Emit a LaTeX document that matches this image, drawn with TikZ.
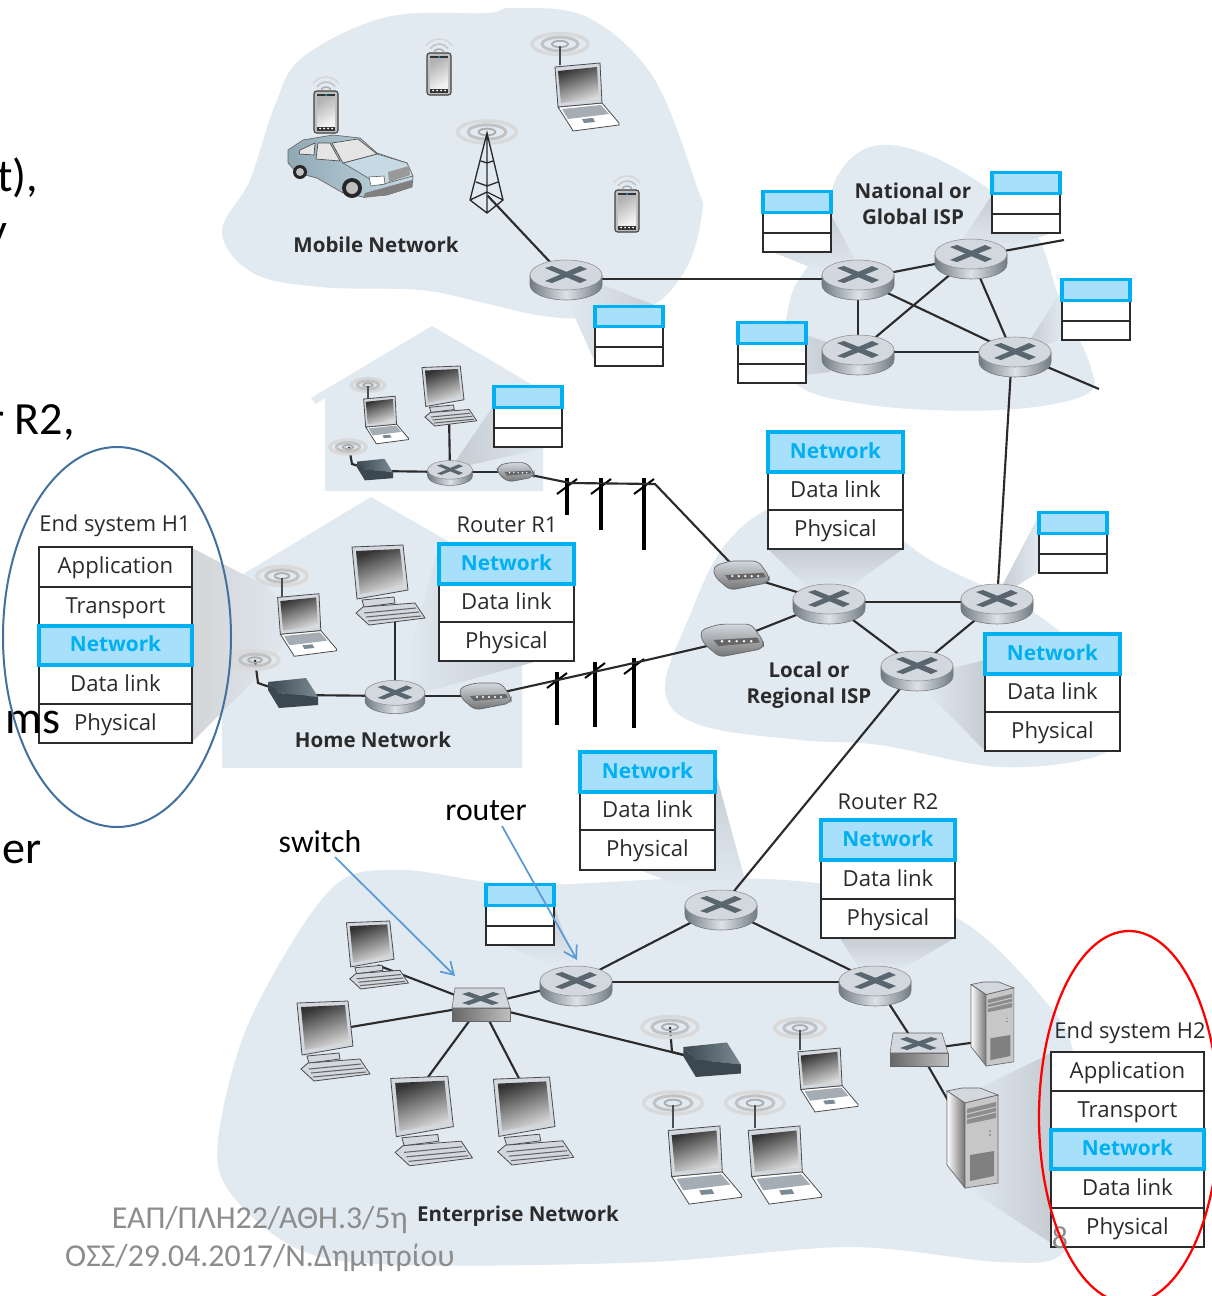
\documentclass[tikz,border=0pt]{standalone}
\usepackage{fontspec}
\setmainfont{Open Sans}
\newfontfamily\calib{Carlito}
\usetikzlibrary{arrows.meta}
\definecolor{blob}{HTML}{E1E9F1}
\definecolor{shd}{HTML}{C6CCD2}
\definecolor{shdg}{HTML}{D3D5D7}
\definecolor{netb}{HTML}{00B0F0}
\definecolor{netf}{HTML}{A8DFFB}
\definecolor{ink}{HTML}{2B2B2B}
\definecolor{rtop}{HTML}{D2D8DE}
\definecolor{rdark}{HTML}{6F7B84}
\definecolor{rlite}{HTML}{DDE2E6}
\definecolor{xmark}{HTML}{59666F}
\definecolor{arrowb}{HTML}{5B9BD5}
\definecolor{foot}{HTML}{8C8C8C}
\definecolor{ringb}{HTML}{41719C}
\definecolor{carA}{HTML}{8FA8B4}
\definecolor{carB}{HTML}{C5DAE4}
\definecolor{modA}{HTML}{3B4851}
\definecolor{modB}{HTML}{7C8A93}
\tikzset{
  cell/.style={draw=ink,line width=1.5pt,fill=white,inner sep=0pt,outer sep=0pt,font=\fontsize{16.6}{18}\selectfont,text=ink,text height=13pt,text depth=3.2pt},
  netcell/.style={cell,draw=netb,line width=2.3pt,fill=netf,text=netb,font=\fontsize{15.6}{18}\selectfont\bfseries,text height=12.2pt,text depth=3pt},
  hub/.style={inner sep=0pt,minimum size=1pt,outer sep=0pt},
  link/.style={draw=ink,line width=1.6pt},
  blobfill/.style={fill=blob,draw=none},
  labelb/.style={font=\fontsize{15.4}{19.5}\selectfont\bfseries,text=ink,align=center,inner sep=0pt},
  labeln/.style={font=\fontsize{16.4}{18}\selectfont,text=ink,inner sep=0pt},
  callout/.style={font=\calib\fontsize{23.8}{25}\selectfont,text=black,inner sep=0pt},
  cutoff/.style={font=\calib\fontsize{34.6}{36}\selectfont,text=black,inner sep=0pt,anchor=west},
  footer/.style={font=\calib\fontsize{23.9}{26}\selectfont,text=foot,inner sep=0pt},
  shadowL/.style={left color=blob,right color=shd,draw=none},
  shadowR/.style={right color=blob,left color=shd,draw=none},
  shadowT/.style={top color=shd,bottom color=blob,draw=none},
  shadowB/.style={bottom color=shd,top color=blob,draw=none},
  pointer/.style={draw=arrowb,line width=1.3pt,-{Straight Barb[length=9pt,width=11pt]}},
}
\newcommand\Cell[7]{%
  \pgfmathsetmacro\cw{(#5-#3)*0.75}\pgfmathsetmacro\ch{(#6-#4)*0.75}%
  \node[#2,minimum width=\cw pt,minimum height=\ch pt] (#1) at ({(#3+#5)/2},{(#4+#6)/2}) {#7};}
\newcommand\EmptyTbl[7]{%
  \Cell{#1c}{cell}{#2}{#5}{#3}{#6}{}\Cell{#1b}{cell}{#2}{#4}{#3}{#5}{}\Cell{#1a}{netcell}{#2}{#7}{#3}{#4}{}}
\newcommand\ThreeTbl[7]{%
  \Cell{#1c}{cell}{#2}{#5}{#3}{#6}{Physical}\Cell{#1b}{cell}{#2}{#4}{#3}{#5}{Data link}\Cell{#1a}{netcell}{#2}{#7}{#3}{#4}{Network}}
\newcommand\Router[3]{\begin{scope}[shift={(#1,#2)},scale=#3]
  \path[left color=rdark,right color=rdark,middle color=rlite,draw=black!55,line width=.4pt] (-36,-5) -- (-36,5) arc[start angle=180,end angle=0,x radius=36,y radius=15] -- (36,-5) -- cycle;
  \path[fill=rtop,draw=black!45,line width=.4pt] (0,-5) ellipse[x radius=36,y radius=15];
  \fill[xmark] (-21,-12) -- (-14,-14) -- (21,0) -- (14,3) -- cycle;
  \fill[xmark] (-21,1) -- (-14,3) -- (21,-11) -- (14,-14) -- cycle;
\end{scope}}
\newcommand\Laptop[3]{\begin{scope}[shift={(#1,#2)},scale=#3]
  \path[fill=white,draw=black!70,line width=.6pt] (-29,10) -- (15,6) -- (32,26) -- (32,28) -- (-14,34) -- (-15,32) -- cycle;
  \path[fill=modB!70] (-25,12) -- (14,8) -- (22,17) -- (-19,22) -- cycle;
  \path[fill=modB] (-5,22) -- (6,21) -- (8,25) -- (-3,26) -- cycle;
  \path[fill=rtop,draw=black!70,line width=.6pt] (-32,-30) -- (13,-34) -- (15,6) -- (-29,10) -- cycle;
  \path[left color=black!80,right color=black!12,shading angle=20] (-29,-26) -- (10,-30) -- (12,2) -- (-26,6) -- cycle;
\end{scope}}
\newcommand\Desktop[3]{\begin{scope}[shift={(#1,#2)},scale=#3]
  \path[fill=rtop,draw=black!70,line width=.6pt] (-26,15) -- (6,12) -- (7,18) -- (-24,22) -- cycle;
  \path[fill=rtop,draw=black!70,line width=.6pt] (-32,28) -- (-25,22) -- (27,18) -- (37,33) -- (-19,40) -- cycle;
  \draw[black!60,line width=.8pt] (-24,28) -- (28,23) (-22,32) -- (31,27) (-20,36) -- (33,31);
  \path[fill=rtop,draw=black!70,line width=.6pt] (-36,-38) -- (15,-40) -- (20,5) -- (-31,14) -- cycle;
  \path[left color=black!80,right color=black!12,shading angle=20] (-32,-34) -- (12,-36) -- (16,1) -- (-28,9) -- cycle;
\end{scope}}
\newcommand\Phone[3]{\begin{scope}[shift={(#1,#2)},scale=#3]
  \path[fill=black!25,draw=black!75,line width=.8pt,rounded corners=2pt] (-12,-21) rectangle (12,21);
  \fill[black!80] (-9,-18.5) rectangle (9,19);
  \path[left color=black!30,right color=black!5,shading angle=30] (-9,-15.5) rectangle (9,14);
  \foreach \q in {-6,-2,2,6} \fill[white] (\q,16.5) circle[radius=1];
  \fill[netb] (0,-17) circle[radius=1];
  \draw[black!16,line width=1.1pt] ([shift={(-35:16)}]0,-19) arc[start angle=-35,end angle=-145,radius=16];
  \draw[black!24,line width=1.1pt] ([shift={(-35:11)}]0,-19) arc[start angle=-35,end angle=-145,radius=11];
  \draw[black!32,line width=1.1pt] ([shift={(-35:6)}]0,-19) arc[start angle=-35,end angle=-145,radius=6];
\end{scope}}
\newcommand\Wave[3]{\begin{scope}[shift={(#1,#2)},scale=#3]
  \draw[black!15,line width=2.6pt] (0,0) ellipse[x radius=28,y radius=10.5];
  \draw[black!24,line width=2.2pt] (0,0) ellipse[x radius=18,y radius=6.8];
  \draw[black!32,line width=1.4pt] (0,0) ellipse[x radius=8,y radius=3.2];
\end{scope}}
\newcommand\Modem[3]{\begin{scope}[shift={(#1,#2)},scale=#3]
  \path[fill=modA] (-25,-13) -- (-14,-2) -- (-14,13) -- (-25,-5) -- cycle;
  \path[left color=modA,right color=modB,draw=none] (-25,-13) -- (13,-17) -- (25,2) -- (-14,-2) -- cycle;
  \path[fill=modA] (-14,-2) -- (25,2) -- (25,10) -- (-14,13) -- cycle;
\end{scope}}
\newcommand\Gateway[3]{\begin{scope}[shift={(#1,#2)},scale=#3]
  \path[top color=rtop,bottom color=black!55,draw=black!60,line width=.5pt,rounded corners=4pt] (-27,-8) -- (-11,-13) -- (15,-13) -- (25,1) -- (25,7) -- (-11,14) -- (-25,2) -- cycle;
  \fill[black!60] (-16,0) -- (20,-2) -- (22,2) -- (-12,5) -- cycle;
  \foreach \q in {-9,-3,3,9,15} \fill[white] (\q,1) circle[radius=1.1];
\end{scope}}
\newcommand\Switch[3]{\begin{scope}[shift={(#1,#2)},scale=#3]
  \path[left color=black!60,right color=black!25,draw=black!60,line width=.4pt] (-29,3) rectangle (29,16);
  \path[fill=rtop,draw=black!60,line width=.4pt] (-26,-17) -- (23,-17) -- (29,3) -- (-29,3) -- cycle;
  \fill[xmark] (-19,-11) -- (-12,-13) -- (18,-2) -- (11,0) -- cycle;
  \fill[xmark] (-19,-2) -- (-12,0) -- (19,-11) -- (12,-13) -- cycle;
\end{scope}}
\newcommand\Server[3]{\begin{scope}[shift={(#1,#2)},scale=#3]
  \path[fill=rtop,draw=black!60,line width=.5pt] (-25,-47) -- (-10,-50) -- (8,-50) -- (26,-43) -- (-7,-35) -- cycle;
  \path[left color=white,right color=black!55,draw=black!60,line width=.5pt] (-25,-47) -- (-7,-35) -- (-7,50) -- (-25,27) -- cycle;
  \path[fill=black!22,draw=black!60,line width=.5pt] (-7,-35) -- (26,-43) -- (26,45) -- (-7,50) -- cycle;
  \fill[black!45] (-5,-29) -- (24,-36) -- (24,-20) -- (-5,-14) -- cycle;
  \draw[black!22,line width=.8pt] (-5,-24) -- (24,-31) (-5,-19) -- (24,-26);
  \fill[black!50] (-2,17) -- (22,13) -- (22,38) -- (-2,43) -- cycle;
  \fill[black!55] (18,-7) circle[radius=.8] (18,-3) circle[radius=.8];
\end{scope}}
\newcommand\Pole[4]{%
  \draw[line width=2.6pt,black] (#2,#3) -- (#2,#4);
  \draw[line width=1.5pt,black] ({#2-10},{#3+16}) -- ({#2+10},{#3+1});
  \node[hub] (#1) at (#2,{#3+5}) {};}
\begin{document}
\begin{tikzpicture}[x=0.75pt,y=-0.75pt]
\useasboundingbox (0,0) rectangle (1211,1296);
\fill[white] (0,0) rectangle (1211,1296);
% ---- regions
\path[blobfill] plot[smooth cycle,tension=0.6] coordinates {(222,232) (250,180) (275,105) (303,57) (387,17) (487,13) (513,8) (587,17) (653,77) (697,187) (702,213) (687,267) (650,307) (587,318) (537,315) (480,302) (420,290) (320,287) (253,273)};
\path[blobfill] plot[smooth cycle,tension=0.6] coordinates {(790,300) (820,245) (838,175) (880,145) (950,165) (1030,225) (1060,300) (1090,365) (1085,395) (1000,410) (870,405) (790,378)};
\path[blobfill] plot[smooth cycle,tension=0.6] coordinates {(665,690) (690,615) (725,545) (780,505) (860,510) (930,560) (1030,610) (1100,670) (1120,720) (1100,755) (1000,767) (880,745) (800,740) (700,725)};
\path[blobfill] plot[smooth cycle,tension=0.55] coordinates {(218,1140) (250,1020) (330,890) (400,870) (520,885) (700,878) (830,885) (960,920) (1050,1007) (1075,1060) (1090,1180) (1063,1253) (1000,1262) (850,1247) (650,1262) (400,1265) (300,1250) (232,1195)};
\path[blobfill] (371,497) -- (545,597) -- (522,597) -- (522,768) -- (222,768) -- (222,598) -- (210,606) -- (205,597) -- cycle;
\path[blobfill] (432,326) -- (555,398) -- (543,398) -- (543,491) -- (325,491) -- (325,398) -- (316,404) -- (311,398) -- cycle;
% ---- projection shadows
\path[right color=blob,left color=shdg] (192,548) -- (268,587) -- (300,625) -- (264,670) -- (192,742) -- cycle;
\path[shadowL] (402,680) -- (439,545) -- (439,661) -- (538,661) -- (425,692) -- cycle;
\path[shadowL] (603,285) -- (662,308) -- (595,362) -- (567,300) -- cycle;
\path[shadowT] (770,251) -- (831,215) -- (858,265) -- (822,272) -- cycle;
\path[shadowT] (992,195) -- (1055,232) -- (1000,250) -- (960,243) -- cycle;
\path[shadowR] (1062,290) -- (1062,339) -- (1045,345) -- (1030,340) -- cycle;
\path[shadowL] (806,335) -- (835,345) -- (830,372) -- (745,382) -- cycle;
\path[shadowR] (494,405) -- (494,446) -- (555,446) -- (470,465) -- (455,462) -- cycle;
\path[shadowT] (768,549) -- (903,549) -- (845,590) -- (810,590) -- cycle;
\path[shadowR] (1039,515) -- (1039,572) -- (1010,590) -- (1000,590) -- cycle;
\path[shadowL] (985,660) -- (985,751) -- (925,690) -- (945,670) -- cycle;
\path[shadowT] (715,770) -- (745,880) -- (725,892) -- (690,890) -- (640,870) -- cycle;
\path[shadowT] (840,938) -- (955,938) -- (900,970) -- (860,970) -- cycle;
\path[shadowT] (554,905) -- (575,965) -- (554,965) -- (500,943) -- cycle;
\path[left color=blob,right color=shd] (980,1088) -- (1051,1053) -- (1051,1243) -- (965,1187) -- (998,1140) -- cycle;
% ---- connection points
\node[hub] (rm) at (566,279) {};
\node[hub] (n1) at (858,279) {};
\node[hub] (n2) at (971,257) {};
\node[hub] (n3) at (858,352) {};
\node[hub] (n4) at (1012,352) {};
\node[hub] (l1) at (829,602) {};
\node[hub] (l2) at (997,602) {};
\node[hub] (l3) at (917,668) {};
\node[hub] (hr) at (395,696) {};
\node[hub] (hs) at (450,472) {};
\node[hub] (e1) at (721,907) {};
\node[hub] (e2) at (576,982) {};
\node[hub] (e3) at (875,982) {};
\node[hub] (sw) at (481,1005) {};
\node[hub] (sx) at (919,1050) {};
\node[hub] (tower) at (487,195) {};
\node[hub] (gh) at (486,696) {};
\node[hub] (gs) at (516,472) {};
\node[hub] (gl1) at (742,575) {};
\node[hub] (gl2) at (733,640) {};
\node[hub] (mh) at (293,695) {};
\node[hub] (ms) at (375,471) {};
\node[hub] (me) at (712,1062) {};
\node[hub] (dh) at (395,610) {};
\node[hub] (ds) at (449,415) {};
\node[hub] (d1) at (333,1030) {};
\node[hub] (d2) at (377,965) {};
\node[hub] (d3) at (420,1088) {};
\node[hub] (d4) at (525,1090) {};
\node[hub] (s1) at (992,1040) {};
\node[hub] (s2) at (965,1130) {};
\coordinate (n2out) at (1064,240);
\coordinate (n4out) at (1099,389);
\coordinate (a1) at (255,660);
\coordinate (a1b) at (258,683);
\coordinate (a2) at (349,447);
\coordinate (a2b) at (352,464);
\coordinate (a3) at (670,1027);
\coordinate (a3b) at (672,1052);
% ---- links
\draw[link] (tower) -- (rm);
\draw[link] (rm) -- (n1);
\draw[link] (n1) -- (n2);
\draw[link] (n1) -- (n3);
\draw[link] (n1) -- (n4);
\draw[link] (n2) -- (n3);
\draw[link] (n2) -- (n4);
\draw[link] (n3) -- (n4);
\draw[link] (n2) -- (n2out);
\draw[link] (n4) -- (n4out);
\draw[link] (n4) -- (l2);
\draw[link] (l1) -- (l2);
\draw[link] (l1) -- (l3);
\draw[link] (l2) -- (l3);
\draw[link] (l1) -- (gl1);
\draw[link] (l1) -- (gl2);
\draw[link] (l3) -- (e1);
\draw[link] (e1) -- (e2);
\draw[link] (e1) -- (e3);
\draw[link] (e2) -- (e3);
\draw[link] (e2) -- (sw);
\draw[link] (sw) -- (d1);
\draw[link] (sw) -- (d2);
\draw[link] (sw) -- (d3);
\draw[link] (sw) -- (d4);
\draw[link] (sw) -- (me);
\draw[link] (e3) -- (sx);
\draw[link] (sx) -- (s1);
\draw[link] (sx) -- (s2);
\draw[link] (mh) -- (hr);
\draw[link] (hr) -- (gh);
\draw[link] (hr) -- (dh);
\draw[link] (ms) -- (hs);
\draw[link] (hs) -- (gs);
\draw[link] (hs) -- (ds);
\draw[link] (a1) -- (a1b) -- (mh);
\draw[link] (a2) -- (a2b) -- (ms);
\draw[link] (a3) -- (a3b) -- (me);
% ---- poles and cables
\Pole{p1}{557}{672}{725}
\Pole{p2}{595}{662}{727}
\Pole{p3}{634}{658}{728}
\Pole{p4}{567}{478}{515}
\Pole{p5}{601}{478}{530}
\Pole{p6}{644}{478}{550}
\draw[link] (gh) -- (p3.center) -- (gl2);
\coordinate (top4) at (655,484);
\draw[link] (gs) -- (570,483) -- (top4) -- (gl1);
% ---- devices
\Wave{560}{44}{1}\draw[black!70,line width=1pt] (560,46) -- (560,65);
\Wave{282}{576}{.9}\draw[black!70,line width=1pt] (282,578) -- (282,600);
\Wave{368}{385}{.6}\draw[black!70,line width=1pt] (368,386) -- (368,402);
\Wave{800}{1028}{.9}\draw[black!70,line width=1pt] (800,1030) -- (800,1050);
\Wave{673}{1103}{1.05}\draw[black!70,line width=1pt] (673,1105) -- (673,1128);
\Wave{755}{1103}{1.05}\draw[black!70,line width=1pt] (755,1105) -- (755,1128);
\Wave{255}{660}{.85}\Wave{348}{447}{.65}\Wave{670}{1027}{1}
\Wave{487}{132}{1.05}
\Laptop{587}{97}{1}
\Laptop{307}{625}{.92}
\Laptop{386}{420}{.7}
\Laptop{828}{1080}{.94}
\Laptop{705}{1165}{1.15}
\Laptop{785}{1165}{1.15}
\Desktop{388}{585}{1}
\Desktop{449}{396}{.75}
\Desktop{333}{1041}{1}
\Desktop{377}{955}{.85}
\Desktop{431}{1121}{1.12}
\Desktop{533}{1121}{1.1}
\Phone{326}{112}{1}
\Phone{439}{74}{1}
\Phone{627}{211}{1}
% tower
\draw[ink,line width=1pt] (487,133) -- (470,200) -- (487,213) -- (503,200) -- cycle (487,133) -- (487,213)
  (481,161) -- (487,163) -- (493,161) (476,182) -- (487,186) -- (498,182) (470,200) -- (487,192) -- (503,200);
% car
\path[left color=carA,right color=carB,draw=black!60,line width=.5pt] (288,150) -- (303,140) -- (333,135) -- (360,138) -- (377,153) -- (407,163) -- (413,177) -- (412,187) -- (387,195) -- (363,197) -- (343,193) -- (317,178) -- (297,173) -- (288,163) -- cycle;
\path[fill=carB,draw=black!60,line width=.5pt] (343,163) -- (377,154) -- (407,163) -- (413,176) -- (380,185) -- cycle;
\path[fill=black!10,draw=black!70,line width=.5pt] (332,143) -- (358,139) -- (377,154) -- (343,163) -- cycle;
\path[fill=black!10,draw=black!70,line width=.5pt] (300,150) -- (315,143) -- (314,155) -- (299,154) -- cycle;
\path[fill=black!10,draw=black!70,line width=.5pt] (318,143) -- (330,143) -- (340,161) -- (316,159) -- cycle;
\path[fill=black!50] (365,193) -- (412,180) -- (412,187) -- (387,195) -- (363,198) -- cycle;
\path[fill=white,draw=black!70,line width=.4pt] (369,177) -- (384,176) -- (385,184) -- (371,186) -- cycle;
\path[fill=black!40] (388,172) -- (409,166) -- (410,175) -- (389,182) -- cycle;
\path[fill=black!85] (352,188) circle[radius=10];
\path[fill=black!25] (352,188) circle[radius=6];
\path[fill=black!85] (300,172) circle[radius=7];
\path[fill=black!25] (300,172) circle[radius=4];
% routers
\Router{566}{280}{1}
\Router{858}{280}{1}
\Router{971}{259}{1}
\Router{858}{355}{1}
\Router{1015}{357}{1}
\Router{829}{604}{1}
\Router{997}{604}{1}
\Router{917}{671}{1}
\Router{395}{697}{.83}
\Router{450}{473}{.62}
\Router{721}{910}{1}
\Router{576}{986}{1}
\Router{875}{986}{1}
\Switch{481}{1005}{1}
\Switch{919}{1050}{1}
\Server{972}{1138}{1}
\Server{992}{1024}{.84}
\Modem{293}{695}{1}
\Modem{375}{471}{.72}
\Modem{712}{1062}{1.15}
\Gateway{486}{696}{1}
\Gateway{516}{472}{.72}
\Gateway{742}{575}{1.08}
\Gateway{733}{640}{1.22}
% ---- network labels
\node[labelb] (lmobile) at (376,245) {Mobile Network};
\node[labelb] (lhome) at (373,740) {Home Network};
\node[labelb] (lent) at (518,1216) {Enterprise Network};
\node[labelb] (lnat) at (913,204) {National or\\Global ISP};
\node[labelb] (lloc) at (809,685) {Local or\\Regional ISP};
% ---- tables
\EmptyTbl{tm}{595}{663}{326}{346}{365}{307}
\EmptyTbl{ta}{763}{831}{212}{232}{251}{192}
\EmptyTbl{tb}{992}{1060}{193}{213}{232}{173}
\EmptyTbl{tc}{1062}{1130}{300}{320}{339}{280}
\EmptyTbl{td}{738}{806}{343}{363}{382}{323}
\EmptyTbl{te}{494}{562}{407}{427}{446}{387}
\EmptyTbl{tf}{1039}{1107}{533}{553}{572}{513}
\EmptyTbl{tg}{486}{554}{905}{925}{943}{885}
\ThreeTbl{ra}{439}{574}{584}{622}{661}{544}
\ThreeTbl{rb}{768}{903}{472}{510}{549}{432}
\ThreeTbl{rc}{985}{1120}{674}{712}{751}{634}
\ThreeTbl{rd}{580}{715}{792}{830}{870}{752}
\ThreeTbl{re}{821}{955}{860}{899}{938}{820}
\node[labeln] (lr1) at (507,525) {Router R1};
\node[labeln] (lr2) at (888,802) {Router R2};
\node[labeln] (lh1) at (115,526) {End system H1};
\node[labeln] (lh2) at (1130,1033) {End system H2};
\Cell{h1a}{cell}{39}{547}{192}{587}{Application}
\Cell{h1b}{cell}{39}{587}{192}{626}{Transport}
\Cell{h1d}{cell}{39}{665}{192}{704}{Data link}
\Cell{h1e}{cell}{39}{704}{192}{743}{Physical}
\Cell{h1c}{netcell}{39}{626}{192}{665}{Network}
\Cell{h2a}{cell}{1051}{1052}{1204}{1091}{Application}
\Cell{h2b}{cell}{1051}{1091}{1204}{1130}{Transport}
\Cell{h2d}{cell}{1051}{1169}{1204}{1208}{Data link}
\Cell{h2e}{cell}{1051}{1208}{1204}{1247}{Physical}
\Cell{h2c}{netcell}{1051}{1130}{1204}{1169}{Network}
% ---- slide overlay
\node[cutoff] (c1) at (-3,178) {t),};
\node[cutoff] (c2) at (-14,238) {y};
\node[cutoff] (c3) at (-12,422) {r R2,};
\node[cutoff] (c4) at (5,722) {ms};
\node[cutoff] (c5) at (2,852) {er};
\node[callout] (sl) at (320,842) {switch};
\node[callout] (rl) at (486,811) {router};
\coordinate (sw1) at (455,976);
\coordinate (ro1) at (577,960);
\draw[pointer] (335,857) -- (sw1);
\draw[pointer] (502,826) -- (ro1);
\node[footer,anchor=east] (f1) at (408,1220) {ΕΑΠ/ΠΛΗ22/ΑΘΗ.3/5η};
\node[footer,anchor=east] (f2) at (455,1258) {ΟΣΣ/29.04.2017/Ν.Δημητρίου};
\node[footer] (pg) at (1060,1238) {8};
\draw[ringb,line width=1.5pt] (117,637) ellipse[x radius=114,y radius=190];
\draw[red,line width=1.7pt] (1129,1117) ellipse[x radius=90,y radius=186];
\end{tikzpicture}
\end{document}
